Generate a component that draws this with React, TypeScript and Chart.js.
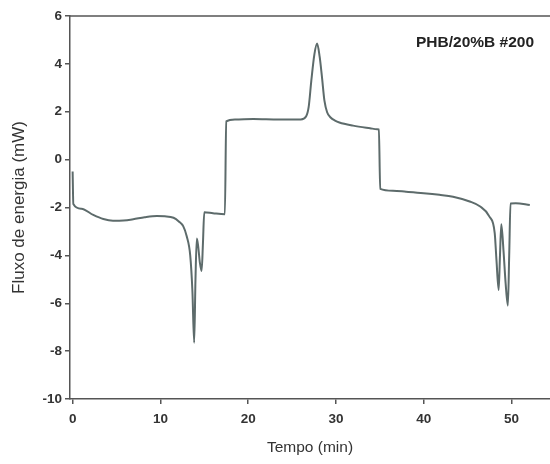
import React, { useEffect, useRef } from "react";
import { Chart, registerables } from "chart.js";

Chart.register(...registerables);

const chartTitle = "PHB/20%B #200";
const xTitle = "Tempo (min)";
const yTitle = "Fluxo de energia (mW)";
const xTicks = [0, 10, 20, 30, 40, 50];
const yTicks = [-10, -8, -6, -4, -2, 0, 2, 4, 6];

const timeMin = [
  0, 0.08, 1, 2.35, 3.5, 4.6, 5.8, 6.9, 8.2, 9.6, 10.5, 11.5, 12.1, 12.6, 13.0, 13.4, 13.65, 13.85,
  14.0, 14.15, 14.3, 14.5, 14.7, 14.85, 15.0, 16.0, 17.35, 17.5, 18.5, 20.6, 23.5, 26.0, 26.6, 26.9,
  27.2, 27.55, 27.86, 28.15, 28.4, 28.7, 29.0, 29.4, 29.9, 30.4, 31.96, 33.9, 34.7, 34.9, 35.05, 36.5,
  38.0, 40.0, 41.8, 43.35, 45.25, 46.4, 47.5, 48.1, 48.3, 48.55, 48.7, 48.85, 49.1, 49.35, 49.6,
  49.75, 49.9, 50.5, 52.1,
];
const heatFlow = [
  -0.5, -1.85, -2.05, -2.31, -2.48, -2.55, -2.54, -2.49, -2.41, -2.36, -2.37, -2.43, -2.58, -2.78,
  -3.2, -4.0, -5.5, -7.65, -5.0, -3.3, -3.6, -4.3, -4.65, -3.5, -2.2, -2.24, -2.28, 1.6, 1.68, 1.7,
  1.68, 1.68, 1.8, 2.2, 3.3, 4.4, 4.85, 4.3, 3.5, 2.45, 1.98, 1.76, 1.63, 1.55, 1.42, 1.31, 1.27,
  1.26, -1.22, -1.3, -1.34, -1.4, -1.47, -1.55, -1.75, -1.95, -2.38, -3.07, -4.2, -5.45, -4.0, -2.7,
  -3.8, -5.2, -6.1, -4.0, -1.83, -1.82, -1.9,
];

export default function App() {
  const ref = useRef<HTMLCanvasElement | null>(null);

  useEffect(() => {
    if (!ref.current) return;
    const framePlugin = {
      id: "frameAndLabel",
      afterDraw(chart: any) {
        const { ctx, chartArea } = chart;
        ctx.save();
        ctx.strokeStyle = "#555";
        ctx.lineWidth = 1.5;
        ctx.beginPath();
        ctx.moveTo(chartArea.left, chartArea.top);
        ctx.lineTo(chartArea.right, chartArea.top);
        ctx.stroke();
        ctx.fillStyle = "#222";
        ctx.font = "bold 15.5px 'Liberation Sans', Arial, sans-serif";
        ctx.textAlign = "center";
        ctx.textBaseline = "middle";
        ctx.fillText(chartTitle, 475, 43);
        ctx.restore();
      },
    };
    const chart = new Chart(ref.current, {
      type: "line",
      data: {
        datasets: [
          {
            data: timeMin.map((t, i) => ({ x: t, y: heatFlow[i] })),
            borderColor: "#5d6b6b",
            borderWidth: 2,
            pointRadius: 0,
            cubicInterpolationMode: "monotone",
            fill: false,
          },
        ],
      },
      options: {
        responsive: false,
        animation: false,
        layout: { padding: { top: 16, left: 0, right: 0, bottom: 0 } },
        plugins: { legend: { display: false }, tooltip: { enabled: false } },
        scales: {
          x: {
            type: "linear",
            min: -0.3,
            max: 54.4,
            afterBuildTicks: (s: any) => {
              s.ticks = xTicks.map((v) => ({ value: v }));
            },
            afterFit: (s: any) => {
              s.height = 65;
            },
            grid: { drawOnChartArea: false, drawTicks: true, tickLength: 5, color: "#555", lineWidth: 1.5 },
            border: { color: "#555", width: 1.5 },
            ticks: {
              padding: 7,
              color: "#333",
              font: { family: "'Liberation Sans', Arial, sans-serif", size: 13.5, weight: "bold" },
            },
            title: {
              display: true,
              text: xTitle,
              color: "#333",
              font: { family: "'Liberation Sans', Arial, sans-serif", size: 15.5 },
              padding: { top: 0, bottom: 7 },
            },
          },
          y: {
            min: -10,
            max: 6,
            afterBuildTicks: (s: any) => {
              s.ticks = yTicks.map((v) => ({ value: v }));
            },
            afterFit: (s: any) => {
              s.width = 70;
            },
            grid: { drawOnChartArea: false, drawTicks: true, tickLength: 5, color: "#555", lineWidth: 1.5 },
            border: { color: "#555", width: 1.5 },
            ticks: {
              padding: 3,
              color: "#333",
              font: { family: "'Liberation Sans', Arial, sans-serif", size: 13.5, weight: "bold" },
            },
            title: {
              display: true,
              text: yTitle,
              color: "#333",
              font: { family: "'Liberation Sans', Arial, sans-serif", size: 17 },
              padding: { top: 9, bottom: 0 },
            },
          },
        },
      },
      plugins: [framePlugin],
    });
    return () => chart.destroy();
  }, []);

  return (
    <div style={{ position: "fixed", left: 0, top: 0, width: 550, height: 464, background: "#fff" }}>
      <canvas ref={ref} width={550} height={464} />
    </div>
  );
}
